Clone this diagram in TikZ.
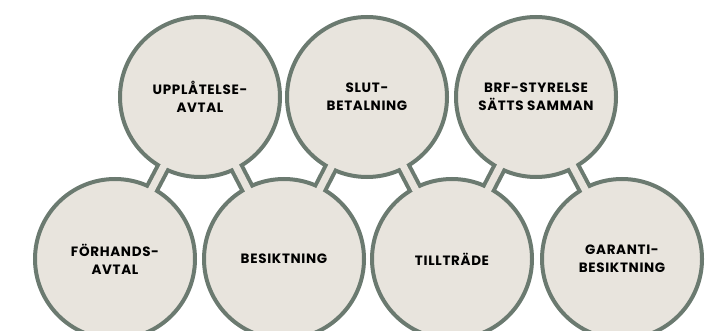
\documentclass[tikz,border=0pt]{standalone}
\usepackage{fontspec}
\setmainfont{Poppins}[LetterSpace=5]
\usepackage{tikz}
\usetikzlibrary{positioning}

\definecolor{ringgreen}{RGB}{107,122,112}
\definecolor{stonefill}{RGB}{232,228,221}

\tikzset{
  step circle/.style={circle, draw=ringgreen, fill=stonefill, line width=4pt,
    minimum size=160pt, inner sep=0pt, align=center, font=\bfseries\fontsize{13.5}{18}\selectfont},
  link dark/.style={draw=ringgreen, line width=15pt, shorten <=-2pt, shorten >=-2pt},
  link light/.style={draw=stonefill, line width=7pt, shorten <=-6pt, shorten >=-6pt}
}

\begin{document}
\begin{tikzpicture}[x=1pt, y=-1pt]
    \useasboundingbox (0,0) rectangle (719,331);
    % nedre raden
    \node[step circle] (forhand) at (115,259) {FÖRHANDS-\\AVTAL};
    \node[step circle] (besikt)  at (284,259) {BESIKTNING};
    \node[step circle] (tilltr)  at (452,259) {TILLTRÄDE};
    \node[step circle] (garanti) at (622,259) {GARANTI-\\BESIKTNING};
    % övre raden
    \node[step circle] (upplat) at (200,97) {UPPLÅTELSE-\\AVTAL};
    \node[step circle] (slutbet) at (367,97) {SLUT-\\BETALNING};
    \node[step circle] (brf)    at (536,97) {BRF-STYRELSE\\SÄTTS SAMMAN};
    % länkar
    \foreach \a/\b in {upplat/forhand, upplat/besikt, slutbet/besikt, slutbet/tilltr, brf/tilltr, brf/garanti} {
        \draw[link dark] (\a) -- (\b);
        \draw[link light] (\a) -- (\b);
    }
\end{tikzpicture}
\end{document}
